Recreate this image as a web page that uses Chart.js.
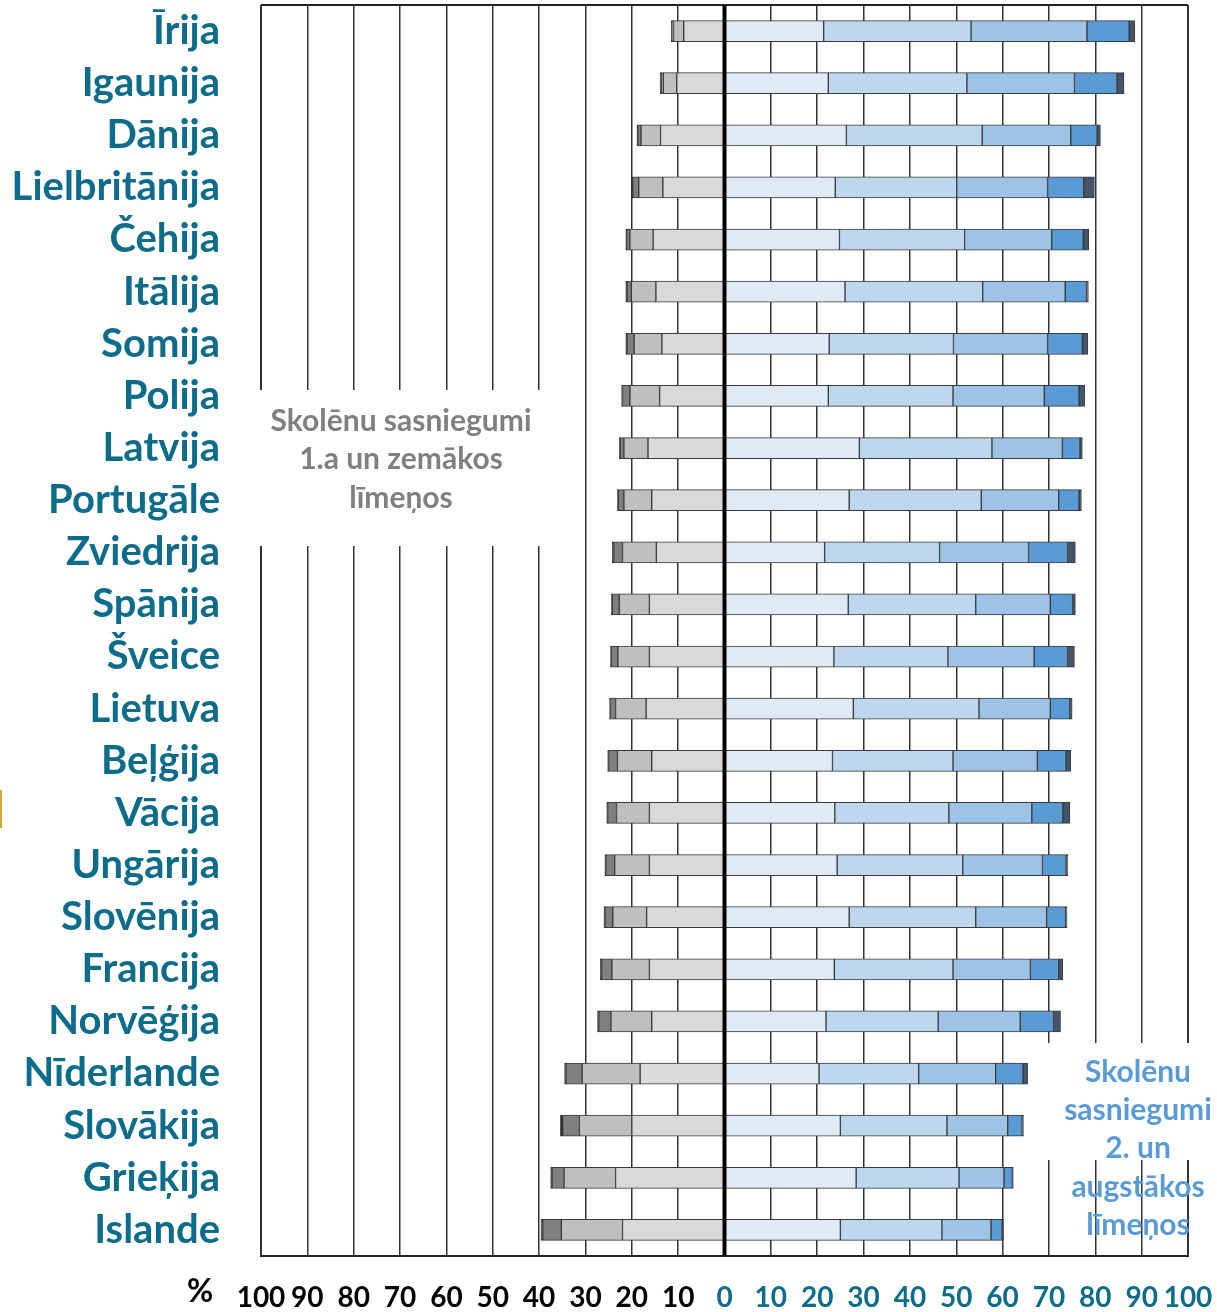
<!DOCTYPE html>
<html>
<head>
<meta charset="utf-8">
<script src="https://cdn.jsdelivr.net/npm/chart.js@4/dist/chart.umd.min.js"></script>
<style>
  body { margin: 0; background: #fff; }
  #wrap { width: 1217px; height: 1312px; position: relative; }
</style>
</head>
<body>
<div id="wrap"><canvas id="chart"></canvas></div>
<script>
// PISA lasīšanas līmeņi, % skolēnu
const countries = ['Īrija', 'Igaunija', 'Dānija', 'Lielbritānija', 'Čehija', 'Itālija', 'Somija', 'Polija',
  'Latvija', 'Portugāle', 'Zviedrija', 'Spānija', 'Šveice', 'Lietuva', 'Beļģija', 'Vācija',
  'Ungārija', 'Slovēnija', 'Francija', 'Norvēģija', 'Nīderlande', 'Slovākija', 'Grieķija', 'Islande'];

// zem 2. līmeņa (zīmē uz kreiso pusi)
const below1c = [0.2, 0.3, 0.2, 0.2, 0.2, 0.3, 0.3, 0.2, 0.2, 0.2, 0.3, 0.2, 0.2, 0.2, 0.2, 0.2, 0.2, 0.2, 0.3, 0.3, 0.3, 0.5, 0.3, 0.4];
const level1c = [0.3, 0.4, 0.7, 1.3, 0.7, 0.9, 1.5, 1.6, 0.8, 1.2, 1.9, 1.5, 1.4, 1.1, 1.9, 1.9, 1.9, 1.7, 2.2, 2.6, 3.5, 3.6, 2.6, 4.0];
const level1b = [2.2, 2.9, 4.2, 5.2, 5.0, 5.3, 6.0, 6.4, 5.2, 6.0, 7.3, 6.5, 6.8, 6.6, 7.4, 7.1, 7.5, 7.3, 8.1, 8.8, 12.5, 11.3, 11.1, 13.2];
const level1a = [8.8, 10.3, 13.8, 13.3, 15.4, 14.8, 13.5, 14.0, 16.5, 15.7, 14.7, 16.2, 16.2, 16.9, 15.7, 16.2, 16.2, 16.8, 16.2, 15.7, 18.2, 20.0, 23.5, 22.0];

// 2. un augstāki līmeņi
const level2 = [21.4, 22.4, 26.3, 23.9, 24.8, 26.0, 22.6, 22.4, 29.1, 26.9, 21.6, 26.7, 23.6, 27.8, 23.3, 23.8, 24.3, 26.9, 23.7, 21.9, 20.4, 25.0, 28.4, 25.0];
const level3 = [31.8, 29.9, 29.3, 26.2, 27.0, 29.7, 26.8, 26.9, 28.6, 28.5, 24.8, 27.5, 24.6, 27.1, 26.0, 24.6, 27.1, 27.3, 25.6, 24.2, 21.5, 23.0, 22.2, 21.9];
const level4 = [25.0, 23.2, 19.1, 19.6, 18.8, 17.8, 20.3, 19.7, 15.2, 16.7, 19.2, 16.1, 18.6, 15.4, 18.2, 17.9, 17.2, 15.3, 16.7, 17.7, 16.6, 13.1, 9.7, 10.6];
const level5 = [9.1, 9.2, 5.7, 7.8, 6.8, 4.6, 7.5, 7.5, 3.8, 4.4, 8.4, 4.8, 7.2, 4.2, 6.2, 6.7, 5.1, 4.1, 6.1, 7.2, 5.9, 3.1, 1.8, 2.4];
const level6 = [1.2, 1.5, 0.7, 2.3, 1.2, 0.4, 1.2, 1.2, 0.5, 0.5, 1.7, 0.6, 1.5, 0.5, 1.0, 1.5, 0.4, 0.3, 0.9, 1.5, 1.0, 0.3, 0.2, 0.3];

const tickValues = [-100, -90, -80, -70, -60, -50, -40, -30, -20, -10, 0, 10, 20, 30, 40, 50, 60, 70, 80, 90, 100];

const leftNote = ['Skolēnu sasniegumi', '1.a un zemākos', 'līmeņos'];
const rightNote = ['Skolēnu', 'sasniegumi', '2. un', 'augstākos', 'līmeņos'];

const TEAL = '#0e6c8b';
const FONT = 'Lato, "Open Sans", sans-serif';

const neg = arr => arr.map(v => -v);

function bar(label, data, color) {
    return {
        label: label,
        data: data,
        backgroundColor: color,
        borderColor: '#3b3b3b',
        borderWidth: 1,
        borderSkipped: false,
        barThickness: 21
    };
}

// lai Chart.js nepievieno papildu atstarpes ap zīmēšanas laukumu
function noPad(scale) {
    scale.paddingTop = 0;
    scale.paddingBottom = 0;
    scale.paddingLeft = 0;
    scale.paddingRight = 0;
}

// baltie lodziņi ar uzrakstiem, rāmja augša, nulles līnija
const extras = {
    id: 'extras',
    beforeDatasetsDraw(chart) {
        const { ctx, chartArea } = chart;
        ctx.save();
        // rāmja augšējā mala
        ctx.strokeStyle = '#222';
        ctx.lineWidth = 2;
        ctx.beginPath();
        ctx.moveTo(chartArea.left, chartArea.top);
        ctx.lineTo(chartArea.right, chartArea.top);
        ctx.stroke();

        ctx.fillStyle = '#fff';
        ctx.fillRect(chartArea.left - 4, 390, 320, 156);
        ctx.fillRect(1045, 1043, 172, 117);

        ctx.font = 'bold 30px ' + FONT;
        ctx.textAlign = 'center';
        ctx.textBaseline = 'middle';
        ctx.fillStyle = '#808080';
        leftNote.forEach((t, i) => ctx.fillText(t, 401, 421 + i * 38.5));
        ctx.fillStyle = '#5b9bd5';
        rightNote.forEach((t, i) => ctx.fillText(t, 1138, 1072 + i * 38.3));
        ctx.restore();
    },
    afterDatasetsDraw(chart) {
        const { ctx, chartArea, scales } = chart;
        const x0 = scales.x.getPixelForValue(0);
        ctx.save();
        ctx.strokeStyle = '#000';
        ctx.lineWidth = 4;
        ctx.beginPath();
        ctx.moveTo(x0, chartArea.top);
        ctx.lineTo(x0, chartArea.bottom);
        ctx.stroke();
        ctx.restore();
    },
    afterDraw(chart) {
        const ctx = chart.ctx;
        ctx.save();
        ctx.font = 'bold 32px ' + FONT;
        ctx.fillStyle = '#000';
        ctx.textAlign = 'center';
        ctx.textBaseline = 'middle';
        ctx.fillText('%', 200, 1292);
        ctx.fillStyle = '#d4a72c';
        ctx.fillRect(0, 790, 2, 38);
        ctx.restore();
    }
};

new Chart(document.getElementById('chart'), {
    type: 'bar',
    data: {
        labels: countries,
        datasets: [
            bar('1.a līmenis', neg(level1a), '#d9d9d9'),
            bar('1.b līmenis', neg(level1b), '#bfbfbf'),
            bar('1.c līmenis', neg(level1c), '#808080'),
            bar('Zem 1.c līmeņa', neg(below1c), '#1e1e1e'),
            bar('2. līmenis', level2, '#deebf7'),
            bar('3. līmenis', level3, '#bdd7ee'),
            bar('4. līmenis', level4, '#9dc3e6'),
            bar('5. līmenis', level5, '#5b9bd5'),
            bar('6. līmenis', level6, '#44546a')
        ]
    },
    options: {
        indexAxis: 'y',
        responsive: true,
        maintainAspectRatio: false,
        animation: false,
        layout: { padding: { top: 5, right: 29, left: 0, bottom: 0 } },
        plugins: {
            legend: { display: false },
            tooltip: { enabled: false }
        },
        scales: {
            x: {
                stacked: true,
                min: -100,
                max: 100,
                afterFit: scale => { scale.height = 56; noPad(scale); },
                afterBuildTicks: scale => { scale.ticks = tickValues.map(v => ({ value: v })); },
                grid: {
                    color: '#333',
                    lineWidth: c => (Math.abs(c.tick.value) === 100 ? 2 : 1.5),
                    drawTicks: false
                },
                border: { display: true, color: '#222', width: 2 },
                ticks: {
                    padding: 25,
                    autoSkip: false,
                    maxRotation: 0,
                    font: { family: FONT, size: 28, weight: 'bold' },
                    color: c => (c.tick.value < 0 ? '#000' : TEAL),
                    callback: v => Math.abs(v)
                }
            },
            y: {
                stacked: true,
                afterFit: scale => { scale.width = 261; noPad(scale); },
                grid: { display: false, drawTicks: false },
                border: { display: false },
                ticks: {
                    padding: 41,
                    autoSkip: false,
                    font: { family: FONT, size: 40, weight: 'bold' },
                    color: TEAL
                }
            }
        }
    },
    plugins: [extras]
});
</script>
</body>
</html>
